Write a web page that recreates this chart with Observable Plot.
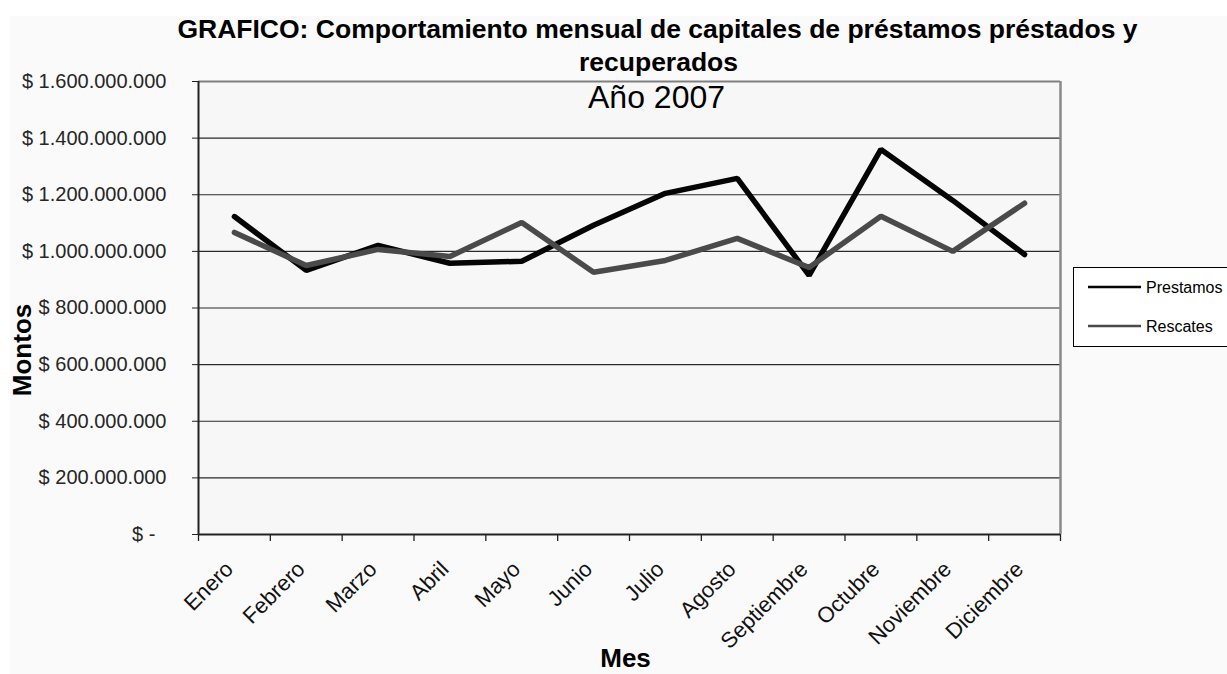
<!DOCTYPE html>
<html>
<head>
<meta charset="utf-8">
<script src="https://cdn.jsdelivr.net/npm/d3@7"></script>
<script src="https://cdn.jsdelivr.net/npm/@observablehq/plot@0.6"></script>
<style>
  html, body { margin: 0; padding: 0; background: #ffffff; }
  #chart { position: relative; width: 1227px; height: 674px; overflow: hidden; }
  svg { font-family: "Liberation Sans", Arial, sans-serif; }
</style>
</head>
<body>
<div id="chart"></div>
<script>
const months = ["Enero","Febrero","Marzo","Abril","Mayo","Junio","Julio","Agosto","Septiembre","Octubre","Noviembre","Diciembre"];
const prestamos = [1123e6, 933e6, 1021e6, 958e6, 965e6, 1092e6, 1205e6, 1258e6, 915e6, 1360e6, 1180e6, 989e6];
const rescates  = [1067e6, 950e6, 1007e6, 982e6, 1102e6, 926e6, 968e6, 1046e6, 943e6, 1124e6, 1000e6, 1170e6];
const seriesNames = ["Prestamos", "Rescates"];
const seriesColors = ["#050505", "#4a4a4a"];
const yTicks = [0, 2e8, 4e8, 6e8, 8e8, 1e9, 1.2e9, 1.4e9, 1.6e9];
const titleLine1 = "GRAFICO: Comportamiento mensual de capitales de préstamos préstados y";
const titleLine2 = "recuperados";
const subtitle = "Año 2007";
const yLabel = "Montos";
const xLabel = "Mes";

const data = [];
months.forEach((m, i) => {
  data.push({i, month: m, serie: seriesNames[0], value: prestamos[i]});
  data.push({i, month: m, serie: seriesNames[1], value: rescates[i]});
});
const idx = months.map((m, i) => ({i, month: m}));
const bounds = d3.range(0, months.length + 1).map(k => k - 0.5);

const fmt = v => v === 0 ? "$ -\u00a0\u00a0" : "$ " + d3.format(",")(v).replace(/,/g, ".");

const chart = Plot.plot({
  width: 1227,
  height: 674,
  marginLeft: 198,
  marginRight: 167,
  marginTop: 81,
  marginBottom: 140,
  style: {background: "transparent", fontFamily: "Liberation Sans, Arial, sans-serif", overflow: "visible"},
  x: {type: "linear", domain: [-0.5, months.length - 0.5]},
  y: {domain: [0, 1.6e9]},
  color: {domain: seriesNames, range: seriesColors},
  marks: [
    Plot.frame({fill: "#f7f7f7", stroke: null}),
    Plot.ruleY(yTicks.slice(1, -1), {stroke: "#2a2a2a", strokeWidth: 1.2}),
    Plot.ruleY([1.6e9], {stroke: "#808080", strokeWidth: 2}),
    Plot.ruleX([months.length - 0.5], {stroke: "#8a8a8a", strokeWidth: 2.5}),
    Plot.axisY({ticks: yTicks, tickFormat: fmt, tickSize: 6, tickPadding: 26, fontSize: 20, fill: "#262626", stroke: "#222", label: null}),
    Plot.axisX({ticks: bounds, tickFormat: () => "", tickSize: 7, stroke: "#222", strokeWidth: 1.3, label: null}),
    Plot.ruleX([-0.5], {stroke: "#222", strokeWidth: 2}),
    Plot.ruleY([0], {stroke: "#222", strokeWidth: 2}),
    Plot.text(idx, {x: "i", text: "month", frameAnchor: "bottom", dy: 36, dx: 0, rotate: -45, textAnchor: "end", fontSize: 22, fill: "#111"}),
    Plot.line(data, {x: "i", y: "value", z: "serie", stroke: "serie", strokeWidth: 5.5, strokeLinejoin: "miter", strokeLinecap: "round"}),
    Plot.text([titleLine1], {frameAnchor: "top", lineAnchor: "middle", textAnchor: "middle", dx: 28, dy: -52, fontSize: 26.5, fontWeight: "bold", fill: "#000"}),
    Plot.text([titleLine2], {frameAnchor: "top", lineAnchor: "middle", textAnchor: "middle", dx: 29, dy: -19, fontSize: 26.5, fontWeight: "bold", fill: "#000"}),
    Plot.text([subtitle], {frameAnchor: "top", lineAnchor: "middle", textAnchor: "middle", dx: 27, dy: 16, fontSize: 32, fill: "#000"}),
    Plot.text([yLabel], {frameAnchor: "left", lineAnchor: "middle", textAnchor: "middle", dx: -176, dy: 42, rotate: -90, fontSize: 26, fontWeight: "bold", fill: "#000"}),
    Plot.text([xLabel], {frameAnchor: "bottom", lineAnchor: "middle", textAnchor: "middle", dx: -4, dy: 124, fontSize: 26, fontWeight: "bold", fill: "#000"})
  ]
});

const svg = d3.select(chart);
svg.insert("rect", ":first-child")
  .attr("x", 10).attr("y", 16).attr("width", 1217).attr("height", 658)
  .attr("fill", "#fafafa");

const lg = svg.append("g").attr("text-anchor", "start");
lg.append("rect").attr("x", 1073.5).attr("y", 267.5).attr("width", 170).attr("height", 79)
  .attr("fill", "#ffffff").attr("stroke", "#000").attr("stroke-width", 1);
seriesNames.forEach((s, k) => {
  const yy = 287 + k * 39;
  lg.append("line").attr("x1", 1088).attr("x2", 1141).attr("y1", yy).attr("y2", yy)
    .attr("stroke", seriesColors[k]).attr("stroke-width", 2.5);
  lg.append("text").attr("x", 1146).attr("y", yy).attr("dy", "0.35em")
    .attr("font-size", 16).attr("fill", "#000").text(s);
});

document.getElementById("chart").appendChild(chart);
</script>
</body>
</html>
